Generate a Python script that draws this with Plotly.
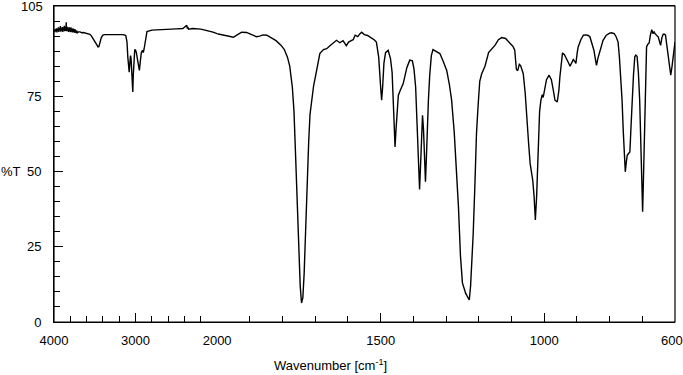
import plotly.graph_objects as go

# Wavenumber (cm^-1) and %T
wavenumber = [
    4000, 3994, 3988, 3982, 3976, 3970, 3964, 3958, 3952, 3946, 3940, 3934, 3928, 3922, 3916, 3910,
    3904, 3898, 3892, 3886, 3880, 3874, 3868, 3862, 3856, 3850, 3845, 3840, 3834, 3828, 3822, 3816,
    3810, 3804, 3798, 3792, 3786, 3780, 3774, 3768, 3762, 3756, 3750, 3744, 3738, 3732, 3726, 3720,
    3714, 3700, 3680,
    3660, 3640, 3620, 3600, 3580, 3560, 3540, 3520, 3500, 3480, 3460, 3450, 3440, 3420, 3400, 3380,
    3300, 3200, 3150, 3120, 3105, 3095, 3085, 3078, 3070, 3062, 3055, 3048, 3040, 3034, 3028, 3020,
    3010, 3000, 2990, 2975, 2962, 2953, 2944, 2930, 2915, 2905, 2895, 2885, 2870, 2860, 2800, 2700,
    2600, 2500, 2420, 2380, 2372, 2366, 2360, 2350, 2300, 2200, 2100, 2050, 2000,
    1980, 1960, 1950, 1940, 1925, 1910, 1895, 1880, 1870, 1860, 1848, 1838, 1820, 1805, 1795, 1785,
    1778, 1770, 1765, 1760, 1755, 1750, 1746, 1742, 1738, 1734, 1730, 1725, 1720, 1716, 1710, 1705,
    1695, 1686, 1675, 1665, 1655, 1645, 1635, 1625, 1615, 1605, 1598, 1590, 1584, 1578, 1570, 1563,
    1558, 1550, 1540, 1530, 1520, 1513, 1506, 1500, 1497, 1494, 1490, 1485, 1477, 1470, 1465, 1461,
    1458, 1456, 1453, 1449, 1446, 1440, 1431, 1420, 1411, 1403, 1398, 1393, 1389, 1385, 1381, 1378,
    1375, 1372, 1369, 1366, 1363, 1360, 1357, 1354, 1350, 1345, 1340, 1330, 1319, 1310, 1298, 1290,
    1283, 1275, 1268, 1262, 1256, 1250, 1240, 1232, 1229, 1225, 1220, 1217, 1212, 1207, 1202, 1197,
    1191, 1181, 1170, 1160, 1150, 1140, 1130, 1118, 1105, 1095, 1090, 1085, 1081, 1076, 1072, 1064,
    1058, 1054, 1048, 1043, 1038, 1035, 1031, 1027, 1023, 1018, 1014, 1010, 1006, 1003, 999, 993,
    985, 978, 972, 967, 960, 955, 952, 946, 944, 938, 931, 925, 921, 916, 911, 906,
    903, 899, 896, 888, 880, 872, 865, 860, 853, 848, 843, 840, 836, 832, 826, 820,
    810, 800, 794, 786, 780, 774, 770, 766, 762, 758, 755, 752, 749, 746, 742, 738,
    734, 731, 727, 723, 720, 716, 712, 708, 704, 701, 699, 697, 694, 692, 689, 687,
    683, 679, 675, 671, 667, 664, 661, 655, 651, 647, 644, 640, 636, 632, 629, 625,
    621, 617, 613, 609, 605, 603, 600,
]
transmittance = [
    96.6, 97.1, 96.3, 97.3, 96.7, 97.6, 96.2, 97.4, 96.8, 97.9, 96.4, 97.7, 96.9, 98.3, 96.5, 97.6,
    96.8, 98.0, 96.4, 97.8, 96.9, 98.4, 96.6, 97.9, 96.7, 99.6, 96.6, 98.1, 96.8, 97.7, 96.4, 98.0,
    96.6, 97.7, 96.3, 97.9, 96.5, 97.4, 96.2, 97.6, 96.4, 97.2, 96.1, 97.3, 96.2, 96.9, 96.0, 96.8,
    96.1, 96.4, 96.4,
    96.1, 96.2, 96.0, 96.0, 95.8, 95.6, 95.0, 94.2, 93.2, 92.2, 91.4, 91.5, 92.5, 94.5, 95.3, 95.5,
    95.5, 95.6, 95.5, 95.2, 93.0, 88.0, 84.0, 83.0, 86.0, 88.5, 87.5, 84.0, 78.0, 76.4, 82.0, 88.0,
    90.5, 90.3, 89.5, 87.0, 84.0, 83.6, 86.0, 89.5, 90.3, 89.5, 90.8, 93.0, 95.8, 96.5, 97.0, 97.2,
    97.3, 97.4, 97.5, 98.2, 98.6, 97.5, 98.0, 97.3, 97.5, 97.3, 96.8, 96.3, 95.8,
    95.3, 94.8, 94.6, 95.3, 96.3, 96.2, 95.6, 94.8, 95.0, 95.4, 95.3, 94.6, 93.5, 92.0, 90.6, 88.0,
    85.0, 78.0, 70.0, 55.0, 38.0, 22.0, 12.0, 6.3, 8.0, 16.0, 30.0, 45.0, 60.0, 69.0, 75.0, 78.5,
    84.0, 89.2, 90.5, 90.8, 91.8, 92.6, 93.6, 92.8, 93.5, 91.8, 93.0, 93.5, 93.8, 95.3, 94.8, 95.8,
    96.3, 95.5, 95.2, 94.5, 93.8, 93.0, 88.0, 78.0, 73.7, 78.0, 86.0, 89.5, 90.3, 87.5, 83.0, 72.0,
    62.0, 58.2, 64.0, 73.0, 75.3, 77.0, 79.2, 84.5, 87.0, 86.8, 84.0, 78.0, 68.0, 55.0, 44.0, 52.0,
    62.0, 68.7, 64.0, 54.0, 46.6, 55.0, 66.0, 73.7, 82.0, 88.5, 90.5, 89.8, 89.2, 87.0, 83.6, 79.0,
    73.7, 63.0, 51.5, 38.0, 22.0, 13.0, 9.5, 7.5, 7.3, 12.0, 22.0, 29.4, 45.0, 62.6, 72.0, 80.0,
    82.5, 85.0, 89.5, 90.8, 92.0, 93.8, 94.5, 94.2, 92.5, 91.5, 90.3, 84.0, 83.5, 85.6, 85.2, 82.5,
    76.0, 68.1, 60.0, 52.7, 49.5, 47.1, 42.0, 33.9, 42.0, 62.6, 70.0, 73.7, 75.5, 74.6, 77.5, 80.5,
    82.0, 80.5, 77.0, 73.7, 73.1, 77.0, 81.4, 88.0, 89.4, 88.8, 87.5, 86.0, 85.0, 86.3, 87.2, 86.5,
    85.9, 89.5, 91.4, 93.8, 95.3, 95.4, 95.2, 94.7, 92.5, 90.3, 87.0, 85.3, 87.5, 89.2, 91.8, 93.6,
    95.3, 96.0, 96.1, 95.8, 94.8, 93.0, 88.0, 82.0, 74.0, 63.0, 55.0, 49.9, 53.0, 55.4, 56.0, 56.5,
    66.0, 73.7, 82.0, 88.1, 88.7, 88.3, 83.0, 73.7, 58.0, 44.0, 36.6, 45.0, 62.0, 73.7, 86.0, 91.4,
    92.3, 92.7, 95.5, 97.1, 95.8, 96.5, 95.8, 95.0, 94.7, 93.0, 91.9, 94.5, 95.6, 95.6, 95.3, 92.0,
    88.1, 84.0, 82.0, 85.0, 89.5, 91.4, 93.0,
]

x_ticks_high = [4000, 3000, 2000]
x_ticks_low = [1500, 1000]
x_edge_label = 600
x_minor_high = [3800, 3600, 3400, 3200, 2800, 2600, 2400, 2200]
x_minor_low = [1900, 1800, 1700, 1600, 1400, 1300, 1200, 1100, 900, 800, 700]
y_tickvals = [0, 25, 50, 75]
y_ticktext = ["0", "25", "50", "75"]
y_edge_label = 105
y_minor = [5, 10, 15, 20, 30, 35, 40, 45, 55, 60, 65, 70, 80, 85, 90, 95, 100]

split = 2000
hi_x = [w for w in wavenumber if w >= split]
hi_y = [t for w, t in zip(wavenumber, transmittance) if w >= split]
lo_x = [w for w in wavenumber if w <= split]
lo_y = [t for w, t in zip(wavenumber, transmittance) if w <= split]

FONT = "Liberation Sans, Arial, sans-serif"
line = dict(color="black", width=1.4)

fig = go.Figure()
fig.add_trace(go.Scatter(x=hi_x, y=hi_y, mode="lines", line=line, xaxis="x", yaxis="y",
                         showlegend=False, hoverinfo="skip"))
fig.add_trace(go.Scatter(x=lo_x, y=lo_y, mode="lines", line=line, xaxis="x2", yaxis="y",
                         showlegend=False, hoverinfo="skip"))

d = 163.0 / 620.5
tick_font = dict(family=FONT, size=13, color="black")
common_x = dict(showgrid=False, zeroline=False, showline=True, mirror=True, linecolor="black",
                linewidth=1, ticks="inside", ticklen=9,
                tickwidth=1, tickcolor="black", tickfont=tick_font, anchor="y",
                automargin=False, ticklabelstandoff=6)

fig.update_layout(
    width=683, height=375,
    margin=dict(l=54, r=8, t=6, b=53, autoexpand=False),
    paper_bgcolor="white", plot_bgcolor="white",
    font=dict(family=FONT, size=13, color="black"),
    hovermode=False,
    xaxis=dict(domain=[0, d], range=[4000, 2000], tickmode="array", tickvals=x_ticks_high,
               ticktext=[str(v) for v in x_ticks_high],
               minor=dict(tickmode="array", tickvals=x_minor_high, ticks="inside", ticklen=6,
                          tickwidth=1, tickcolor="black", showgrid=False),
               **common_x),
    xaxis2=dict(domain=[d, 1], range=[2000, 600], tickmode="array", tickvals=x_ticks_low,
                ticktext=[str(v) for v in x_ticks_low],
                minor=dict(tickmode="array", tickvals=x_minor_low, ticks="inside", ticklen=6,
                           tickwidth=1, tickcolor="black", showgrid=False),
                **common_x),
    yaxis=dict(range=[0, 105], tickmode="array", tickvals=y_tickvals, ticktext=y_ticktext,
               showgrid=False, zeroline=False, showline=True, linecolor="black", linewidth=1,
               ticks="inside", ticklen=9,
               tickwidth=1, tickcolor="black", ticklabelstandoff=9, automargin=False,
               tickfont=tick_font,
               minor=dict(tickmode="array", tickvals=y_minor, ticks="inside", ticklen=6,
                          tickwidth=1, tickcolor="black", showgrid=False),
               anchor="x"),
    yaxis2=dict(range=[0, 105], overlaying="y", side="right", anchor="x2", showgrid=False,
                zeroline=False, showline=True, linecolor="black", linewidth=1,
                ticks="", showticklabels=False, automargin=False),
    shapes=[dict(type="rect", xref="paper", yref="paper", x0=0, x1=1, y0=0, y1=1,
                 line=dict(color="black", width=1.2), fillcolor="rgba(0,0,0,0)", layer="above")],
    annotations=[
        dict(text=str(y_edge_label), xref="paper", yref="y", x=0, y=y_edge_label, xanchor="right",
             yanchor="middle", xshift=-9, showarrow=False, font=tick_font),
        dict(text=str(x_edge_label), xref="x2", yref="paper", x=x_edge_label, y=0, xanchor="center",
             yanchor="middle", xshift=-3, yshift=-18, showarrow=False, font=tick_font),
        dict(text="%T", xref="paper", yref="y", x=(11.5 - 54) / 620.5, y=50, xanchor="center",
             yanchor="middle", showarrow=False, font=dict(family=FONT, size=13, color="black")),
        dict(text="Wavenumber [cm<sup>-1</sup>]", xref="paper", yref="paper", x=(330 - 54) / 620.5,
             y=-0.105, xanchor="center", yanchor="top", showarrow=False,
             font=dict(family=FONT, size=13, color="black")),
    ],
)

fig.write_html(
    "out.html",
    post_script=(
        "document.body.style.margin='0';document.body.style.overflow='hidden';"
        "var s=document.createElement('style');"
        "s.innerHTML='.modebar-container{display:none !important;}';"
        "document.head.appendChild(s);"
    ),
)
